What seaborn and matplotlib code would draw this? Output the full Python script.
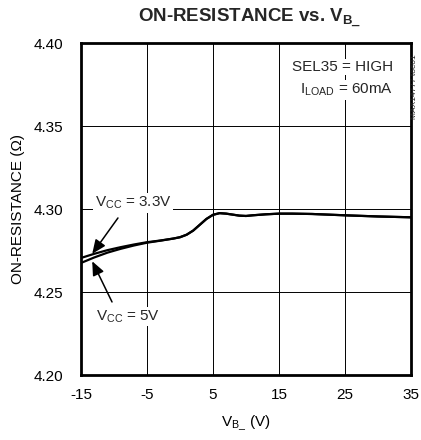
import numpy as np
import pandas as pd
import matplotlib
matplotlib.use("Agg")
import matplotlib.pyplot as plt
import seaborn as sns
from matplotlib import font_manager

# === Data ===
vb = [-15, -13, -11, -9, -7, -5, -3, -1, 0, 1, 2, 3, 4, 5, 6, 7, 8, 9, 10,
      11, 13, 15, 17, 20, 25, 30, 35]
r_vcc33 = [4.2705, 4.2730, 4.2752, 4.2770, 4.2786, 4.2800, 4.2810, 4.2822,
           4.2830, 4.2845, 4.2870, 4.2905, 4.2940, 4.2965, 4.2975, 4.2972,
           4.2966, 4.2960, 4.2958, 4.2962, 4.2968, 4.2972, 4.2972, 4.2970,
           4.2962, 4.2955, 4.2950]
r_vcc5 = [4.2675, 4.2708, 4.2737, 4.2760, 4.2780, 4.2797, 4.2809, 4.2822,
          4.2830, 4.2845, 4.2870, 4.2905, 4.2940, 4.2965, 4.2975, 4.2972,
          4.2966, 4.2960, 4.2958, 4.2962, 4.2968, 4.2972, 4.2972, 4.2970,
          4.2962, 4.2955, 4.2950]
x_ticks = [-15, -5, 5, 15, 25, 35]
y_ticks = [4.20, 4.25, 4.30, 4.35, 4.40]

df = pd.DataFrame({
    "vb": vb * 2,
    "r": r_vcc33 + r_vcc5,
    "vcc": ["3.3V"] * len(vb) + ["5V"] * len(vb),
})

sns.set_theme(style="white")
names = {f.name for f in font_manager.fontManager.ttflist}
font = "Liberation Sans Narrow" if "Liberation Sans Narrow" in names else "Liberation Sans"
plt.rcParams["font.family"] = [font, "DejaVu Sans"]
plt.rcParams["mathtext.fontset"] = "custom"
plt.rcParams["mathtext.rm"] = font
plt.rcParams["mathtext.it"] = font
plt.rcParams["mathtext.bf"] = font + ":bold"

fig = plt.figure(figsize=(4.21, 4.40), dpi=100)
ax = fig.add_axes([81 / 421, 1 - 375 / 440, 330 / 421, 332 / 440])

sns.lineplot(data=df, x="vb", y="r", units="vcc", estimator=None,
             color="black", lw=1.6, ax=ax, legend=False)

ax.set_xlim(-15, 35)
ax.set_ylim(4.20, 4.40)
ax.set_xticks(x_ticks)
ax.set_yticks(y_ticks)
ax.set_xticklabels([str(t) for t in x_ticks])
ax.set_yticklabels([f"{t:.2f}" for t in y_ticks])
ax.tick_params(length=0, labelsize=11, colors="black")
ax.tick_params(axis="x", pad=9)
ax.tick_params(axis="y", pad=13)
ax.grid(True, color="black", lw=0.7)
for s in ax.spines.values():
    s.set_color("black")
    s.set_linewidth(2)

ax.set_xlabel(r"V$_{\mathrm{B\_}}$ (V)", fontsize=11, color="black", labelpad=9)
ax.set_ylabel("ON-RESISTANCE (Ω)", fontsize=11, color="black", labelpad=6)
fig.text(250 / 421, 1 - 18 / 440, r"ON-RESISTANCE vs. V$_{\mathbf{B\_}}$",
         ha="center", va="center", fontsize=13.5, fontweight="bold")

box = dict(facecolor="white", edgecolor="none", pad=1)
ax.text(32.3, 4.3855, "SEL35 = HIGH", ha="right", va="center", fontsize=11, bbox=box)
ax.text(32.3, 4.3717, r"I$_{\mathrm{LOAD}}$ = 60mA", ha="right", va="center",
        fontsize=11, bbox=box)

ax.text(-7.1, 4.3036, r"V$_{\mathrm{CC}}$ = 3.3V", ha="center", va="center",
        fontsize=11, bbox=box)
ax.text(-7.9, 4.235, r"V$_{\mathrm{CC}}$ = 5V", ha="center", va="center",
        fontsize=11, bbox=box)

arrow = dict(arrowstyle="-|>,head_length=0.7,head_width=0.3", color="black",
             lw=1.1, shrinkA=0, shrinkB=0)
ax.annotate("", xy=(-13.3, 4.2730), xytext=(-9.4, 4.2946), arrowprops=arrow)
ax.annotate("", xy=(-13.3, 4.2685), xytext=(-10.3, 4.2440), arrowprops=arrow)

fig.text(415 / 421, 1 - 87 / 440, "MAX14777 toc01", rotation=90,
         ha="center", va="center", fontsize=6)

fig.savefig("out.png", dpi=100)
